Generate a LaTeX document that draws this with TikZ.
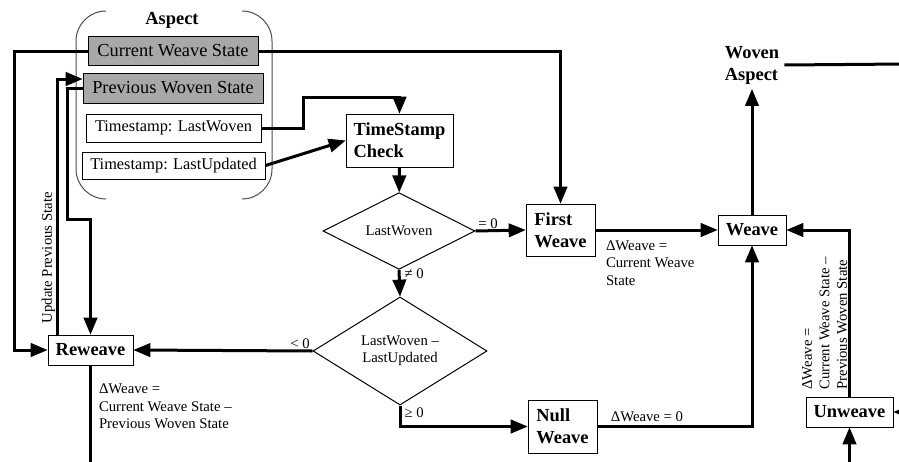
\documentclass[tikz,border=0pt]{standalone}
\usepackage{fontspec}
\setmainfont{Liberation Serif}
\usepackage{tikz}
\usetikzlibrary{arrows,shapes}

\begin{document}
\begin{tikzpicture}[>=triangle 45,
  conn/.style={->,line width=3bp},
  box/.style={draw,line width=1bp,fill=white,inner sep=0bp,font=\fontsize{18.5}{22}\selectfont\bfseries},
  field/.style={draw,line width=1bp,fill=white,inner sep=0bp,font=\fontsize{16.4}{19}\selectfont},
  state/.style={field,fill=black!34,font=\fontsize{18.4}{22}\selectfont},
  test/.style={draw,diamond,line width=1bp,fill=white,inner sep=0bp,align=center,font=\fontsize{14.8}{17.5}\selectfont},
  lbl/.style={inner sep=1bp,align=left,font=\fontsize{14.8}{17.5}\selectfont}]
\useasboundingbox (0bp,0bp) rectangle (899bp,-462bp);
\clip (0bp,0bp) rectangle (899bp,-462bp);
% aspect bracket
\draw [line width=1bp,black!70] (106bp,-11bp) arc[start angle=90,end angle=180,radius=30bp] -- (76bp,-169bp) arc[start angle=180,end angle=270,radius=30bp];
\draw [line width=1bp,black!70] (242bp,-11bp) arc[start angle=90,end angle=0,radius=30bp] -- (272bp,-169bp) arc[start angle=0,end angle=-90,radius=30bp];
\node (ASP) at (172bp,-20bp)[font=\fontsize{18.5}{22}\selectfont\bfseries] {Aspect};
\node (CWS) at (173bp,-51bp)[state,minimum width=170bp,minimum height=29bp] {Current Weave State};
\node (PWS) at (173bp,-88bp)[state,minimum width=180bp,minimum height=30bp] {Previous Woven State};
\node (TLW) at (173.5bp,-128bp)[field,minimum width=175bp,minimum height=28bp] {Timestamp: LastWoven};
\node (TLU) at (173.5bp,-165.5bp)[field,minimum width=183bp,minimum height=27bp] {Timestamp: LastUpdated};
\node (TSC) at (399.5bp,-140.5bp)[box,align=left,minimum width=107bp,minimum height=53bp] {TimeStamp\\Check};
\node (LW) at (399bp,-231bp)[test,minimum width=152bp,minimum height=44bp] {LastWoven};
\node (LWLU) at (400bp,-351bp)[test,minimum width=174bp,minimum height=78bp] {LastWoven –\\LastUpdated};
\node (RW) at (90.5bp,-350bp)[box,minimum width=85bp,minimum height=30bp] {Reweave};
\node (FW) at (560.5bp,-230bp)[box,align=left,minimum width=69bp,minimum height=52bp] {First\\Weave};
\node (NW) at (562.5bp,-426.5bp)[box,align=left,minimum width=69bp,minimum height=53bp] {Null\\Weave};
\node (W) at (752bp,-230bp)[box,minimum width=68bp,minimum height=30bp] {Weave};
\node (UW) at (849.5bp,-412bp)[box,minimum width=87bp,minimum height=30bp] {Unweave};
\node (WA) at (752bp,-65bp)[align=left,inner sep=5bp,font=\fontsize{18.5}{22}\selectfont\bfseries] {Woven\\Aspect};
\coordinate (L1) at (14bp,-350bp);
\coordinate (P1) at (67bp,-219bp);
\coordinate (T1) at (303bp,-97bp);
\coordinate (E1) at (905bp,-64bp);
\coordinate (E2) at (905bp,-412bp);
\coordinate (E3) at (849.5bp,-470bp);
\coordinate (E4) at (90.5bp,-470bp);
% connectors
\draw [conn] (CWS.west) -| (L1) -- (RW.west);
\draw [conn] (CWS.east) -| (FW.north);
\draw [conn] ([xshift=-33bp]RW.north) |- node[pos=0.15,sloped,above,lbl] (UPS) {Update Previous State} ([yshift=9bp]PWS.west);
\draw [conn] (PWS.west) -| (P1) -| (RW.north);
\draw [conn] (TLW.east) -| (T1) -| (TSC.north);
\draw [conn] (TLU.east) -- (TSC.west);
\draw [conn] (TSC) -- (LW);
\draw [conn] (LW.east) -- node[near start,above,lbl] (EQ0) {= 0} (FW.west);
\draw [conn] (LW.south) -- node[pos=0.13,right=3bp,lbl] (NE0) {≠ 0} (LWLU.north);
\draw [conn] (LWLU.west) -- node[pos=0.07,above,lbl] (LT0) {< 0} (RW.east);
\draw [conn] (LWLU.south) |- node[pos=0.17,right=2bp,lbl] (GE0) {≥ 0} (NW.west);
\draw [conn] (FW.east) -- node[pos=0,anchor=north west,xshift=8bp,yshift=-8bp,lbl] (DW1) {ΔWeave =\\Current Weave\\State} (W.west);
\draw [conn] (NW.east) -| node[pos=0.16,above=2bp,lbl] (DW0) {ΔWeave = 0} (W.south);
\draw [conn] (W.north) -- (WA.south);
\draw [line width=3bp] (WA.east) -- (E1);
\draw [conn] (UW.north) |- node[pos=0.22,sloped,above,lbl] (DW2) {ΔWeave =\\Current Weave State –\\Previous Woven State} (W.east);
\draw [conn] (E2) -- (UW.east);
\draw [conn] (E3) -- (UW.south);
\draw [line width=3bp] (RW.south) -- node[pos=0,anchor=north west,xshift=6bp,yshift=-16bp,lbl] (DW3) {ΔWeave =\\Current Weave State –\\Previous Woven State} (E4);
\end{tikzpicture}
\end{document}
